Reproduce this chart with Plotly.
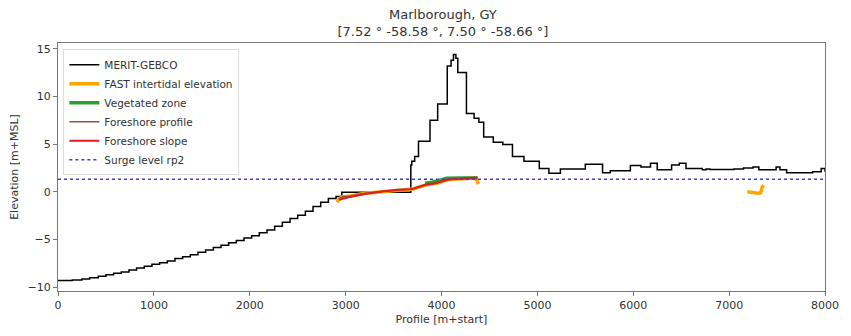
import plotly.graph_objects as go

# MERIT-GEBCO profile (step values)
gebco_x = [0, 150, 250, 330, 420, 500, 580, 660, 740, 820, 900, 980, 1060, 1140, 1220,
           1300, 1380, 1460, 1540, 1620, 1700, 1780, 1860, 1940, 2020, 2100, 2180, 2260,
           2340, 2420, 2500, 2580, 2660, 2740, 2820, 2900, 2960, 3680, 3690, 3720, 3760,
           3880, 3960, 4060, 4100, 4125, 4150, 4170, 4260, 4340, 4390, 4440, 4540, 4640,
           4740, 4860, 5020, 5120, 5240, 5500, 5680, 5760, 5970, 6080, 6180, 6250, 6400,
           6480, 6550, 6720, 6760, 6800, 7050, 7150, 7250, 7310, 7490, 7530, 7600, 7870,
           7960, 8000]
gebco_y = [-9.3, -9.25, -9.15, -9.0, -8.85, -8.7, -8.55, -8.4, -8.2, -8.0, -7.8, -7.6,
           -7.45, -7.25, -7.0, -6.8, -6.6, -6.35, -6.1, -5.85, -5.6, -5.35, -5.1, -4.85,
           -4.6, -4.3, -4.0, -3.6, -3.2, -2.8, -2.45, -2.05, -1.55, -1.1, -0.7, -0.5,
           -0.05, 2.8, 3.2, 3.7, 5.3, 7.5, 9.2, 13.2, 13.8, 14.4, 14.0, 12.5, 8.2, 7.7,
           7.3, 5.75, 5.2, 4.95, 3.7, 3.2, 2.45, 1.95, 2.4, 2.9, 2.0, 2.2, 2.75, 2.6, 3.0,
           2.3, 2.8, 3.0, 2.45, 2.3, 2.4, 2.35, 2.4, 2.5, 2.6, 2.3, 2.6, 2.3, 2.0, 2.1,
           2.45, 2.1]

# FAST intertidal elevation (two pieces)
fast_x = [2910, 2930, 2960, 3050, 3200, 3400, 3600, 3700, 3850, 3950, 4080, 4200, 4350,
          4370, 4385, None, 7190, 7250, 7300, 7330, 7345, 7360]
fast_y = [-1.1, -0.8, -0.55, -0.45, -0.15, 0.05, 0.2, 0.3, 0.75, 0.9, 1.3, 1.4, 1.45,
          1.2, 0.8, None, 0.0, -0.1, -0.15, -0.1, 0.5, 0.7]

# Vegetated zone
veg_x = [3830, 3900, 4000, 4050, 4200, 4370]
veg_y = [0.9, 1.0, 1.25, 1.42, 1.45, 1.45]

# Foreshore profile
prof_x = [2930, 2960, 3050, 3200, 3400, 3600, 3700, 3850, 3950, 4080, 4200, 4370]
prof_y = [-0.8, -0.55, -0.45, -0.15, 0.05, 0.2, 0.3, 0.75, 0.9, 1.3, 1.4, 1.45]

# Foreshore slope
slope_x = [2930, 3030, 3200, 3380, 3550, 3690, 3830, 3930, 4070, 4380]
slope_y = [-0.83, -0.58, -0.24, 0.04, 0.21, 0.28, 0.73, 0.9, 1.29, 1.49]

# Surge level rp2
surge_level = 1.32
x_range = [0, 8000]

fig = go.Figure()
fig.add_trace(go.Scatter(x=gebco_x, y=gebco_y, mode="lines", name="MERIT-GEBCO",
                         line=dict(color="black", width=1.5, shape="hv")))
fig.add_trace(go.Scatter(x=fast_x, y=fast_y, mode="lines", name="FAST intertidal elevation",
                         line=dict(color="orange", width=3.5), connectgaps=False))
fig.add_trace(go.Scatter(x=veg_x, y=veg_y, mode="lines", name="Vegetated zone",
                         line=dict(color="#2ca02c", width=3.5)))
fig.add_trace(go.Scatter(x=prof_x, y=prof_y, mode="lines", name="Foreshore profile",
                         line=dict(color="#8c564b", width=1.5)))
fig.add_trace(go.Scatter(x=slope_x, y=slope_y, mode="lines", name="Foreshore slope",
                         line=dict(color="#e41a1c", width=2)))
fig.add_trace(go.Scatter(x=x_range, y=[surge_level, surge_level], mode="lines",
                         name="Surge level rp2",
                         line=dict(color="#3b3bd6", width=1.5, dash="dot")))

axis_common = dict(showline=True, linecolor="#777", linewidth=1, mirror=True,
                   ticks="outside", ticklen=4, tickcolor="#777", showgrid=False,
                   zeroline=False, tickfont=dict(size=11, color="#333"))

fig.update_layout(
    width=851, height=336,
    margin=dict(l=58, r=23, t=43, b=42),
    paper_bgcolor="white", plot_bgcolor="white",
    font=dict(family="DejaVu Sans", color="#333"),
    title=dict(text="Marlborough, GY<br>[7.52 ° -58.58 °, 7.50 ° -58.66 °]",
               x=0.5205, xanchor="center", yref="container", y=0.942, yanchor="middle",
               font=dict(size=13, color="#333")),
    xaxis=dict(range=x_range, tickvals=[0, 1000, 2000, 3000, 4000, 5000, 6000, 7000, 8000],
               title=dict(text="Profile [m+start]", font=dict(size=11), standoff=4),
               **axis_common),
    yaxis=dict(range=[-10.4, 15.6], tickvals=[-10, -5, 0, 5, 10, 15],
               title=dict(text="Elevation [m+MSL]", font=dict(size=11), standoff=6),
               **axis_common),
    legend=dict(x=0.007, y=0.975, xanchor="left", yanchor="top",
                bgcolor="rgba(255,255,255,0.85)", bordercolor="#ddd", borderwidth=1,
                font=dict(size=10.5, color="#333"), itemwidth=30, tracegroupgap=0),
    showlegend=True,
)

fig.write_html("out.html")
